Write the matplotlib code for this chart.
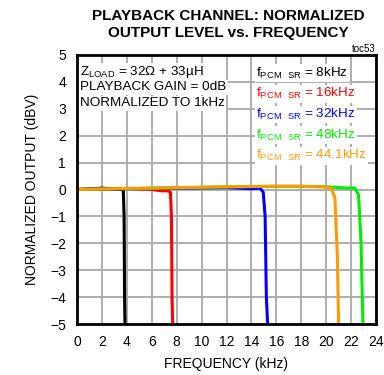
import matplotlib
matplotlib.use("Agg")
import matplotlib.pyplot as plt

plt.rcParams['font.family'] = ['Liberation Sans', 'DejaVu Sans']

# Data (kHz, dBV)
f_8k = [0, 1, 2, 3, 3.6, 3.72, 3.78, 3.82, 3.85]
v_8k = [0, 0.02, 0.05, 0.02, 0.0, -0.05, -1.0, -4.0, -5.0]
f_16k = [0, 2, 4, 6, 6.8, 7.3, 7.5, 7.58, 7.63, 7.68]
v_16k = [0, 0.02, 0.04, 0.0, -0.05, -0.05, -0.1, -1.0, -4.0, -5.0]
f_32k = [0, 4, 8, 12, 14, 14.7, 14.95, 15.1, 15.2, 15.3]
v_32k = [0, 0.03, 0.05, 0.07, 0.03, 0.05, -0.1, -1.0, -4.0, -5.0]
f_48k = [0, 4, 8, 12, 16, 18, 20, 21.5, 22.3, 22.6, 22.8, 22.95]
v_48k = [0, 0.03, 0.06, 0.1, 0.12, 0.12, 0.1, 0.06, 0.05, -0.2, -2.0, -5.0]
f_441k = [0, 4, 8, 12, 16, 18, 19.8, 20.4, 20.7, 20.9, 21.0]
v_441k = [0, 0.04, 0.07, 0.1, 0.12, 0.12, 0.1, 0.05, -0.3, -2.5, -5.0]

series = [
    (f_8k, v_8k, '#000000'),
    (f_16k, v_16k, '#ff0000'),
    (f_32k, v_32k, '#0000ff'),
    (f_48k, v_48k, '#00ee00'),
    (f_441k, v_441k, '#ff9900'),
]
legend_labels = ['8kHz', '16kHz', '32kHz', '48kHz', '44.1kHz']
legend_colors = ['#000000', '#ff0000', '#0000ff', '#00ee00', '#ff9900']

xticks = list(range(0, 25, 2))
yticks = list(range(-5, 6, 1))

fig = plt.figure(figsize=(3.84, 3.75), dpi=100)
ax = fig.add_axes([77/384, 1-324/375, (376-77)/384, (324-55)/375])

for x, y, c in series:
    ax.plot(x, y, color=c, lw=2.2, solid_joinstyle='round')

ax.set_xlim(0, 24)
ax.set_ylim(-5, 5)
ax.set_xticks(xticks)
ax.set_yticks(yticks)
ax.grid(True, color='#a8a8a8', lw=1.3)
ax.set_axisbelow(True)
for s in ax.spines.values():
    s.set_linewidth(2)
ax.tick_params(length=0, labelsize=10, pad=8)
ax.set_xlabel('FREQUENCY (kHz)', fontsize=10, labelpad=6)
ax.set_ylabel('NORMALIZED OUTPUT (dBV)', fontsize=10, labelpad=8)

fig.text(0.595, 0.975, 'PLAYBACK CHANNEL: NORMALIZED\nOUTPUT LEVEL vs. FREQUENCY',
         ha='center', va='top', fontsize=11, fontweight='bold', linespacing=1.2)
ax.text(1.0, 1.005, 'toc53', transform=ax.transAxes, ha='right', va='bottom', fontsize=7)

bbox = dict(facecolor='white', edgecolor='none', pad=1)
ax.text(0.25, 4.37, r'Z$_{\mathregular{LOAD}}$ = 32Ω + 33µH', fontsize=9.7, va='center', bbox=bbox)
ax.text(0.25, 3.8, 'PLAYBACK GAIN = 0dB', fontsize=9.7, va='center', bbox=bbox)
ax.text(0.25, 3.2, 'NORMALIZED TO 1kHz', fontsize=9.7, va='center', bbox=bbox)

ys = [4.33, 3.56, 2.79, 2.02, 1.25]
for lab, c, yy in zip(legend_labels, legend_colors, ys):
    ax.text(14.4, yy, r'f$_{\mathregular{PCM\ \ SR}}$ = ' + lab, color=c, fontsize=9.7,
            va='center', bbox=bbox)

fig.savefig('out.png', dpi=100)
